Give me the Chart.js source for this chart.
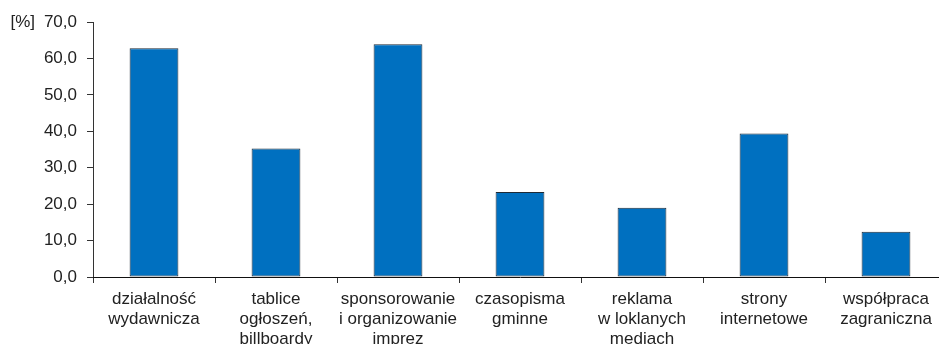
<!DOCTYPE html>
<html>
<head>
<meta charset="utf-8">
<script src="https://cdn.jsdelivr.net/npm/chart.js@4/dist/chart.umd.min.js"></script>
<style>
    html, body { margin: 0; padding: 0; background: #fff; overflow: hidden; }
    #wrap { width: 960px; height: 360px; }
</style>
</head>
<body>
<div id="wrap"><canvas id="chart" width="960" height="360"></canvas></div>
<script>
    // Dane wykresu
    const kategorie = [
        ['działalność', 'wydawnicza'],
        ['tablice', 'ogłoszeń,', 'billboardy'],
        ['sponsorowanie', 'i organizowanie', 'imprez'],
        ['czasopisma', 'gminne'],
        ['reklama', 'w loklanych', 'mediach'],
        ['strony', 'internetowe'],
        ['współpraca', 'zagraniczna']
    ];
    const wartosci = [62.8, 35.3, 63.9, 23.3, 19.0, 39.4, 12.4];
    const jednostka = '[%]';

    const czcionka = { family: '"Liberation Sans", Arial, Helvetica, sans-serif', size: 17 };

    // Podpis jednostki obok górnej etykiety osi Y
    const jednostkaPlugin = {
        id: 'jednostka',
        afterDraw(chart) {
            const ctx = chart.ctx;
            const y = chart.scales.y.getPixelForValue(70);
            ctx.save();
            ctx.font = czcionka.size + 'px ' + czcionka.family;
            ctx.fillStyle = '#222';
            ctx.textAlign = 'right';
            ctx.textBaseline = 'middle';
            ctx.fillText(jednostka, 35, y);
            ctx.restore();
        }
    };

    new Chart(document.getElementById('chart').getContext('2d'), {
        type: 'bar',
        data: {
            labels: kategorie,
            datasets: [{
                data: wartosci,
                backgroundColor: '#0070C0',
                borderColor: '#1e2a36',
                borderWidth: 1,
                borderSkipped: false,
                barPercentage: 0.4,
                categoryPercentage: 1.0
            }]
        },
        options: {
            responsive: false,
            animation: false,
            layout: { padding: { top: 22, right: 13, left: 0, bottom: 0 } },
            plugins: { legend: { display: false }, tooltip: { enabled: false } },
            scales: {
                y: {
                    min: 0,
                    max: 70,
                    afterFit(scale) { scale.width = 93; },
                    ticks: {
                        stepSize: 10,
                        padding: 10,
                        color: '#222',
                        font: czcionka,
                        callback: v => v.toFixed(1).replace('.', ',')
                    },
                    grid: { drawOnChartArea: false, tickLength: 6, color: '#333' },
                    border: { color: '#333', width: 1 }
                },
                x: {
                    afterFit(scale) { scale.height = 83; },
                    ticks: {
                        padding: 6,
                        color: '#222',
                        maxRotation: 0,
                        autoSkip: false,
                        font: Object.assign({ lineHeight: 1.18 }, czcionka)
                    },
                    grid: { offset: true, drawOnChartArea: false, tickLength: 6, color: '#333' },
                    border: { color: '#111', width: 1 }
                }
            }
        },
        plugins: [jednostkaPlugin]
    });
</script>
</body>
</html>
